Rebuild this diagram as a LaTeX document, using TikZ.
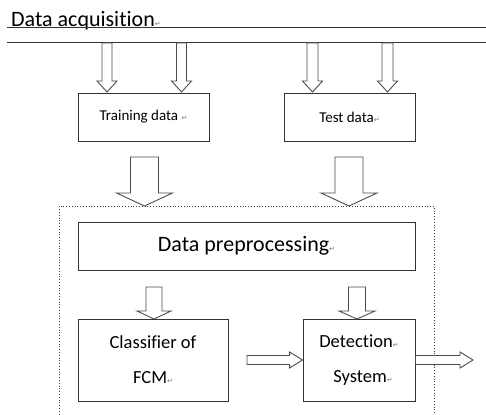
\documentclass[tikz,border=0pt]{standalone}
\usepackage{fontspec}
\setmainfont{Carlito}[Ligatures={NoCommon}]
\newfontfamily\markfont{DejaVu Sans}
\usetikzlibrary{calc}

% Word-style paragraph mark
\newcommand{\pmark}{{\markfont\fontsize{7}{7}\selectfont\textcolor{black!55}{↵}}}

% hollow block arrow pointing down: centre x, top y, tip y, half shaft, half head, head length
\newcommand{\blockdown}[6]{%
  \draw[blockline] (#1-#4,#2) -- (#1-#4,#3-#6) -- (#1-#5,#3-#6) -- (#1,#3)
    -- (#1+#5,#3-#6) -- (#1+#4,#3-#6) -- (#1+#4,#2) -- cycle;}
% hollow block arrow pointing right: start point, tip point, half shaft, half head, head length
\newcommand{\blockright}[5]{%
  \draw[blockline] ([yshift=#3pt]#1) -- ([xshift=-#5pt,yshift=#3pt]#2)
    -- ([xshift=-#5pt,yshift=#4pt]#2) -- (#2)
    -- ([xshift=-#5pt,yshift=-#4pt]#2) -- ([xshift=-#5pt,yshift=-#3pt]#2)
    -- ([yshift=-#3pt]#1) -- cycle;}

\begin{document}
\begin{tikzpicture}[x=1pt,y=-1pt,
  box/.style={draw=black!80,line width=0.9pt,rectangle,inner sep=0pt,align=center},
  blockline/.style={draw=black!70,line width=0.9pt,fill=white,line join=miter},
  rule/.style={draw=black!80,line width=1pt}]
\useasboundingbox (0,0) rectangle (486,414);

% acquisition bus
\node[anchor=base west,inner sep=0pt,font=\fontsize{22}{22}\selectfont] (acq) at (11,27) {Data acquisition\pmark};
\coordinate (busA1) at (7,28);   \coordinate (busA2) at (486,28);
\coordinate (busB1) at (7,43);   \coordinate (busB2) at (486,43);
\draw[rule] (busA1) -- (busA2);
\draw[rule] (busB1) -- (busB2);

% data sets
\node[box,minimum width=131pt,minimum height=48pt,font=\fontsize{15}{15}\selectfont] (train) at (143.5,117) {Training data \pmark};
\node[box,minimum width=131pt,minimum height=48pt,font=\fontsize{15}{15}\selectfont] (test) at (349.5,117) {Test data\pmark};

% arrows from the bus into the data sets
\blockdown{107}{43}{92}{5}{10}{11}
\blockdown{181.5}{43}{92}{5}{10}{11}
\blockdown{312.5}{43}{92}{5.5}{10}{11}
\blockdown{387.5}{43}{92}{5.5}{10}{11}

% processing frame (open at the bottom)
\coordinate (fbl) at (59,420); \coordinate (ftl) at (59,206);
\coordinate (ftr) at (434,206); \coordinate (fbr) at (434,420);
\draw[black!75,line width=0.8pt,dotted] (fbl) -- (ftl) -- (ftr) -- (fbr);

% large arrows into the frame
\blockdown{144.5}{157}{206}{14}{28}{13}
\blockdown{349}{157}{206}{14}{28}{13}

% processing blocks
\node[box,minimum width=337pt,minimum height=48pt,font=\fontsize{22}{22}\selectfont] (prep) at (246.5,246) {Data preprocessing\pmark};
\node[box,minimum width=150pt,minimum height=82pt,font=\fontsize{18.5}{35}\selectfont] (cls) at (153,360) {Classifier of\\ FCM\pmark};
\node[box,minimum width=112pt,minimum height=82pt,font=\fontsize{18.5}{35}\selectfont] (det) at (359,360) {Detection\pmark\\ \hspace*{8pt}System\pmark};

% arrows from preprocessing
\blockdown{154}{287}{319}{8}{17}{8}
\blockdown{357}{287}{319}{8.5}{18}{8}

% classifier to detection, detection output
\coordinate (linkstart) at (247,360);
\coordinate (outtip) at (473,360);
\blockright{linkstart}{det.west}{4.5}{8}{13}
\blockright{det.east}{outtip}{4.5}{8}{13}
\end{tikzpicture}
\end{document}
